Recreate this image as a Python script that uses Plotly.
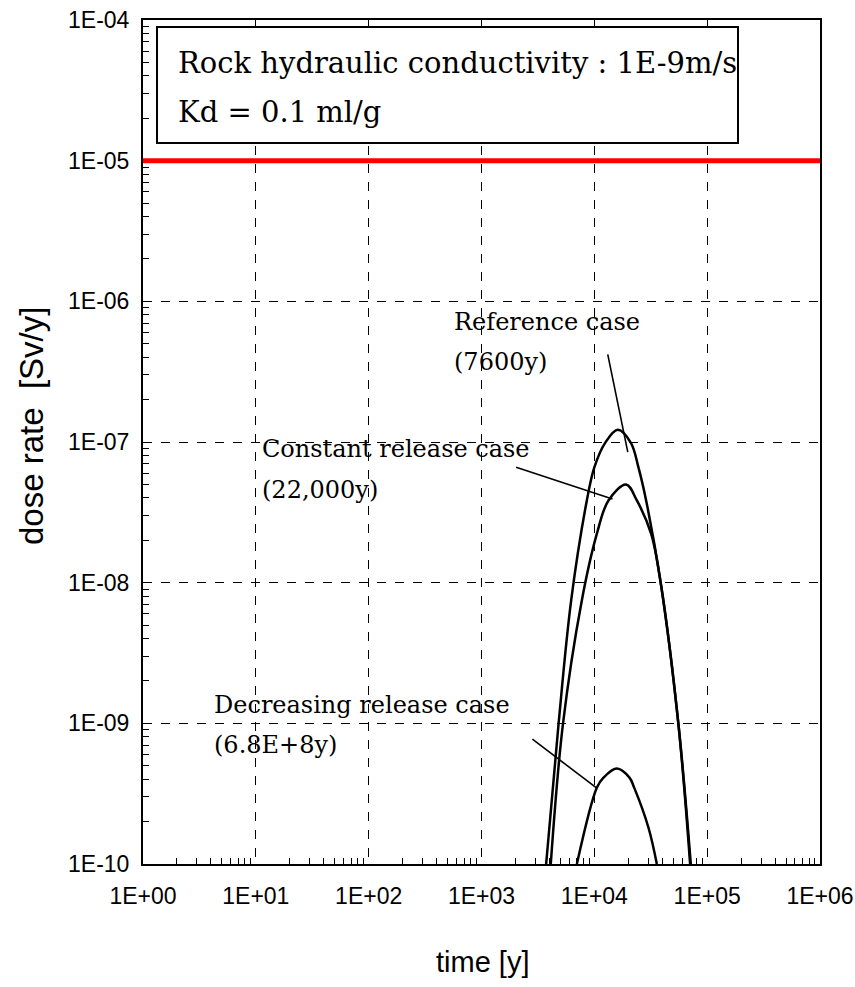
import plotly.graph_objects as go

# ---- data ----
ref_t = [3740, 4810, 6230, 8580, 10000, 12470, 16150, 21080, 24600, 28780, 38880, 55700, 70600]
ref_d = [1e-10, 9.75e-10, 7.45e-9, 3.84e-8, 6.6e-8, 9.86e-8, 1.22e-7, 9.86e-8, 6.6e-8, 3.84e-8, 9.8e-9, 9.75e-10, 1e-10]

const_t = [4110, 5260, 7740, 10520, 13340, 19140, 23820, 31900, 38880, 55700, 71600]
const_d = [1e-10, 9.75e-10, 7.45e-9, 2.22e-8, 3.84e-8, 4.99e-8, 3.84e-8, 2.22e-8, 9.8e-9, 9.75e-10, 1e-10]

decr_t = [7000, 10520, 12050, 15850, 20480, 22540, 30200, 35800]
decr_d = [1e-10, 3.49e-10, 4.11e-10, 4.77e-10, 4.11e-10, 3.49e-10, 1.81e-10, 1e-10]

limit_t = [1, 1e6]
limit_d = [1e-5, 1e-5]

ref_leader_t = [13150, 19800]
ref_leader_d = [4.2e-7, 8.47e-8]
const_leader_t = [2027, 14480]
const_leader_d = [6.62e-8, 3.94e-8]
decr_leader_t = [2827, 10380]
decr_leader_d = [7.71e-10, 3.49e-10]

x_tickvals = [1, 10, 100, 1e3, 1e4, 1e5, 1e6]
x_ticktext = ["1E+00", "1E+01", "1E+02", "1E+03", "1E+04", "1E+05", "1E+06"]
y_tickvals = [1e-10, 1e-9, 1e-8, 1e-7, 1e-6, 1e-5, 1e-4]
y_ticktext = ["1E-10", "1E-09", "1E-08", "1E-07", "1E-06", "1E-05", "1E-04"]

# ---- layout geometry ----
W, H = 855, 987
L, R, T, B = 143, 820, 20, 864


def px(x):
    return (x - L) / (R - L)


def py(y):
    return 1 - (y - T) / (B - T)


fig = go.Figure()

curve_line = dict(color="black", width=2.5, shape="spline", smoothing=1.0)
fig.add_trace(go.Scatter(x=ref_t, y=ref_d, mode="lines", line=curve_line))
fig.add_trace(go.Scatter(x=const_t, y=const_d, mode="lines", line=curve_line))
fig.add_trace(go.Scatter(x=decr_t, y=decr_d, mode="lines", line=curve_line))
fig.add_trace(go.Scatter(x=limit_t, y=limit_d, mode="lines", line=dict(color="#ff0000", width=5)))

leader = dict(color="black", width=1.6)
for lt, ld in [(ref_leader_t, ref_leader_d), (const_leader_t, const_leader_d),
               (decr_leader_t, decr_leader_d)]:
    fig.add_trace(go.Scatter(x=lt, y=ld, mode="lines", line=leader))

serif = "DejaVu Serif"
sans = "Liberation Sans, Arial"
tick_font = dict(family=sans, size=23, color="black")

# info box
fig.add_shape(type="rect", xref="paper", yref="paper",
              x0=px(157), x1=px(738), y0=py(143), y1=py(27),
              line=dict(color="black", width=2), fillcolor="white", layer="above")


def label(text, x, y, size):
    fig.add_annotation(text=text, xref="paper", yref="paper", x=px(x), y=py(y),
                       xanchor="left", yanchor="middle", showarrow=False,
                       borderpad=0,
                       font=dict(family=serif, size=size, color="black"))


label("Rock hydraulic conductivity : 1E-9m/s", 177, 63, 29)
label("Kd = 0.1 ml/g", 177, 112, 29)
label("Reference case", 453, 322, 24)
label("(7600y)", 453, 362, 24)
label("Constant release case", 261, 449, 24)
label("(22,000y)", 261, 490, 24)
label("Decreasing release case", 213, 705, 24)
label("(6.8E+8y)", 213, 745, 24)

# axis titles
fig.add_annotation(text="dose rate  [Sv/y]", xref="paper", yref="paper",
                   x=px(31), y=py(426), xanchor="center", yanchor="middle",
                   textangle=-90, showarrow=False,
                   font=dict(family=sans, size=33, color="black"))
fig.add_annotation(text="time [y]", xref="paper", yref="paper",
                   x=px(482), y=py(962), xanchor="center", yanchor="middle",
                   showarrow=False,
                   font=dict(family=sans, size=29, color="black"))

minor_x = [m * 10 ** e for e in range(0, 6) for m in range(2, 10)]
minor_y = [m * 10.0 ** e for e in range(-10, -4) for m in range(2, 10)]

fig.update_xaxes(type="log", range=[0, 6], tickmode="array",
                 tickvals=x_tickvals, ticktext=x_ticktext, tickfont=tick_font,
                 showline=True, linecolor="black", linewidth=2, mirror=True,
                 showgrid=True, gridcolor="black", gridwidth=1, griddash="dash",
                 ticks="", ticklabelstandoff=10, zeroline=False, automargin=False,
                 ticklabeloverflow="allow",
                 minor=dict(tickmode="array", tickvals=minor_x, ticks="inside",
                            ticklen=6, tickcolor="black", tickwidth=1, showgrid=False))
fig.update_yaxes(type="log", range=[-10, -4], tickmode="array",
                 tickvals=y_tickvals, ticktext=y_ticktext, tickfont=tick_font,
                 showline=True, linecolor="black", linewidth=2, mirror=True,
                 showgrid=True, gridcolor="black", gridwidth=1, griddash="dash",
                 ticks="", ticklabelstandoff=7, zeroline=False, automargin=False,
                 ticklabeloverflow="allow",
                 minor=dict(tickmode="array", tickvals=minor_y, ticks="inside",
                            ticklen=6, tickcolor="black", tickwidth=1, showgrid=False))

fig.update_layout(width=W, height=H, showlegend=False,
                  margin=dict(l=L, r=W - R, t=T, b=H - B, pad=0),
                  plot_bgcolor="white", paper_bgcolor="white")

fig.write_html("out.html", config={"displayModeBar": False},
               post_script="document.body.style.margin='0px';")
